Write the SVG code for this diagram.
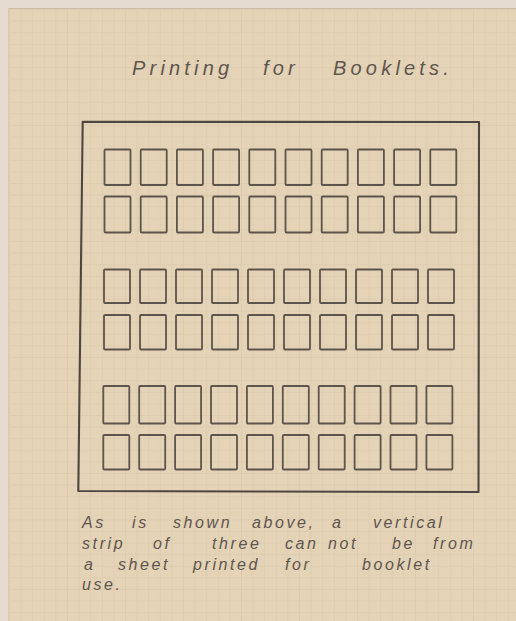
<svg xmlns="http://www.w3.org/2000/svg" xmlns:xlink="http://www.w3.org/1999/xlink" width="516" height="621" viewBox="0 0 516 621">
  <defs>
    <pattern id="grid" x="9" y="9" width="11.6" height="11.6" patternUnits="userSpaceOnUse">
      <path d="M0 0.5 H11.6 M0.5 0 V11.6" fill="none" stroke="#d4c0a0" stroke-width="1" stroke-opacity="0.35"/>
    </pattern>
  </defs>
  <style>
    .frame { fill: none; stroke: #4f473f; stroke-width: 2.1; stroke-linejoin: round; }
    .stamp { fill: none; stroke: #5d544b; stroke-width: 1.8; }
    .hand { font-family: "Liberation Sans", "DejaVu Sans", sans-serif; font-style: italic; fill: #5e564f; }
    .title { font-size: 20px; letter-spacing: 4.2px; }
    .note { font-size: 16px; letter-spacing: 2.6px; }
  </style>

  <!-- paper -->
  <rect x="0" y="0" width="516" height="621" fill="#e6dbd0"/>
  <rect x="8" y="8" width="508" height="613" fill="#e4d3b7"/>
  <rect x="8" y="8" width="508" height="613" fill="url(#grid)"/>
  <line x1="8" y1="8.5" x2="516" y2="8.5" stroke="#cbbca6" stroke-width="1.2"/>
  <line x1="8.5" y1="8" x2="8.5" y2="621" stroke="#d8cab8" stroke-width="1"/>

  <g id="title">
    <text class="hand title" y="75"><tspan x="132">Printing</tspan><tspan x="263">for</tspan><tspan x="333">Booklets.</tspan></text>
  </g>

  <g id="sheet">
    <polygon class="frame" points="82.7,121.7 479,122 478.5,492 78.3,491"/>
  </g>

  <g id="row1">
    <rect class="stamp" x="104.5" y="149.5" width="26" height="35.5" rx="1"/>
    <rect class="stamp" x="140.7" y="149.5" width="26" height="35.5" rx="1"/>
    <rect class="stamp" x="176.9" y="149.5" width="26" height="35.5" rx="1"/>
    <rect class="stamp" x="213.1" y="149.5" width="26" height="35.5" rx="1"/>
    <rect class="stamp" x="249.3" y="149.5" width="26" height="35.5" rx="1"/>
    <rect class="stamp" x="285.5" y="149.5" width="26" height="35.5" rx="1"/>
    <rect class="stamp" x="321.7" y="149.5" width="26" height="35.5" rx="1"/>
    <rect class="stamp" x="357.9" y="149.5" width="26" height="35.5" rx="1"/>
    <rect class="stamp" x="394.1" y="149.5" width="26" height="35.5" rx="1"/>
    <rect class="stamp" x="430.3" y="149.5" width="26" height="35.5" rx="1"/>
  </g>
  <g id="row2">
    <rect class="stamp" x="104.5" y="196.5" width="26" height="36" rx="1"/>
    <rect class="stamp" x="140.7" y="196.5" width="26" height="36" rx="1"/>
    <rect class="stamp" x="176.9" y="196.5" width="26" height="36" rx="1"/>
    <rect class="stamp" x="213.1" y="196.5" width="26" height="36" rx="1"/>
    <rect class="stamp" x="249.3" y="196.5" width="26" height="36" rx="1"/>
    <rect class="stamp" x="285.5" y="196.5" width="26" height="36" rx="1"/>
    <rect class="stamp" x="321.7" y="196.5" width="26" height="36" rx="1"/>
    <rect class="stamp" x="357.9" y="196.5" width="26" height="36" rx="1"/>
    <rect class="stamp" x="394.1" y="196.5" width="26" height="36" rx="1"/>
    <rect class="stamp" x="430.3" y="196.5" width="26" height="36" rx="1"/>
  </g>
  <g id="row3">
    <rect class="stamp" x="104" y="269.5" width="26" height="33.5" rx="1"/>
    <rect class="stamp" x="140" y="269.5" width="26" height="33.5" rx="1"/>
    <rect class="stamp" x="176" y="269.5" width="26" height="33.5" rx="1"/>
    <rect class="stamp" x="212" y="269.5" width="26" height="33.5" rx="1"/>
    <rect class="stamp" x="248" y="269.5" width="26" height="33.5" rx="1"/>
    <rect class="stamp" x="284" y="269.5" width="26" height="33.5" rx="1"/>
    <rect class="stamp" x="320" y="269.5" width="26" height="33.5" rx="1"/>
    <rect class="stamp" x="356" y="269.5" width="26" height="33.5" rx="1"/>
    <rect class="stamp" x="392" y="269.5" width="26" height="33.5" rx="1"/>
    <rect class="stamp" x="428" y="269.5" width="26" height="33.5" rx="1"/>
  </g>
  <g id="row4">
    <rect class="stamp" x="104" y="315" width="26" height="34.5" rx="1"/>
    <rect class="stamp" x="140" y="315" width="26" height="34.5" rx="1"/>
    <rect class="stamp" x="176" y="315" width="26" height="34.5" rx="1"/>
    <rect class="stamp" x="212" y="315" width="26" height="34.5" rx="1"/>
    <rect class="stamp" x="248" y="315" width="26" height="34.5" rx="1"/>
    <rect class="stamp" x="284" y="315" width="26" height="34.5" rx="1"/>
    <rect class="stamp" x="320" y="315" width="26" height="34.5" rx="1"/>
    <rect class="stamp" x="356" y="315" width="26" height="34.5" rx="1"/>
    <rect class="stamp" x="392" y="315" width="26" height="34.5" rx="1"/>
    <rect class="stamp" x="428" y="315" width="26" height="34.5" rx="1"/>
  </g>
  <g id="row5">
    <rect class="stamp" x="103.3" y="386" width="26" height="37.5" rx="1"/>
    <rect class="stamp" x="139.2" y="386" width="26" height="37.5" rx="1"/>
    <rect class="stamp" x="175.1" y="386" width="26" height="37.5" rx="1"/>
    <rect class="stamp" x="211" y="386" width="26" height="37.5" rx="1"/>
    <rect class="stamp" x="246.9" y="386" width="26" height="37.5" rx="1"/>
    <rect class="stamp" x="282.8" y="386" width="26" height="37.5" rx="1"/>
    <rect class="stamp" x="318.7" y="386" width="26" height="37.5" rx="1"/>
    <rect class="stamp" x="354.6" y="386" width="26" height="37.5" rx="1"/>
    <rect class="stamp" x="390.5" y="386" width="26" height="37.5" rx="1"/>
    <rect class="stamp" x="426.4" y="386" width="26" height="37.5" rx="1"/>
  </g>
  <g id="row6">
    <rect class="stamp" x="103.3" y="435" width="26" height="34.5" rx="1"/>
    <rect class="stamp" x="139.2" y="435" width="26" height="34.5" rx="1"/>
    <rect class="stamp" x="175.1" y="435" width="26" height="34.5" rx="1"/>
    <rect class="stamp" x="211" y="435" width="26" height="34.5" rx="1"/>
    <rect class="stamp" x="246.9" y="435" width="26" height="34.5" rx="1"/>
    <rect class="stamp" x="282.8" y="435" width="26" height="34.5" rx="1"/>
    <rect class="stamp" x="318.7" y="435" width="26" height="34.5" rx="1"/>
    <rect class="stamp" x="354.6" y="435" width="26" height="34.5" rx="1"/>
    <rect class="stamp" x="390.5" y="435" width="26" height="34.5" rx="1"/>
    <rect class="stamp" x="426.4" y="435" width="26" height="34.5" rx="1"/>
  </g>

  <g id="note">
    <text class="hand note" y="528"><tspan x="82">As</tspan><tspan x="132">is</tspan><tspan x="173">shown</tspan><tspan x="252">above,</tspan><tspan x="332">a</tspan><tspan x="373">vertical</tspan></text>
    <text class="hand note" y="549"><tspan x="82">strip</tspan><tspan x="153">of</tspan><tspan x="212">three</tspan><tspan x="285">can</tspan><tspan x="328">not</tspan><tspan x="392">be</tspan><tspan x="433">from</tspan></text>
    <text class="hand note" y="570"><tspan x="84">a</tspan><tspan x="118">sheet</tspan><tspan x="193">printed</tspan><tspan x="285">for</tspan><tspan x="362">booklet</tspan></text>
    <text class="hand note" y="590"><tspan x="82">use.</tspan></text>
  </g>
</svg>
